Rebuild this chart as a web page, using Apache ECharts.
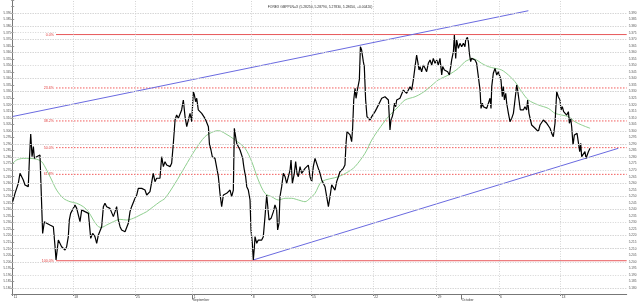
<!DOCTYPE html>
<html><head><meta charset="utf-8">
<script src="https://cdn.jsdelivr.net/npm/echarts@6/dist/echarts.min.js"></script>
<style>html,body{margin:0;padding:0;background:#fff}#c{width:640px;height:302px}</style>
</head><body><div id="c"></div>
<script>
const titleText = 'FOREX GBPPLN=X (5.28250, 5.28790, 5.27830, 5.28650, +0.00420)';
// x unit: trading days from Aug 11
const dayTickPos = [0, 4.98, 10.05, 14.79, 19.64, 24.51, 29.63, 34.84, 39.96, 45.03];
const dayTickLabels = ['11','18','25','1','8','15','22','29','6','13'];
const monthTickPos = [14.79, 36.89];
const monthLabels = ['September','October'];
const fibStart = 3.56;
const fibLevels = [5.3736, 5.3328, 5.3076, 5.2872, 5.2668, 5.2008];
const fibNames = ['0.0%','23.6%','38.2%','50.0%','61.8%','100.0%'];
const upperChannel = [[0, 5.3110], [42.37, 5.3918]];
const lowerChannel = [[19.77, 5.2014], [49.76, 5.2867]];
const price = [
[0,5.2459],[0.05,5.2447],[0.19,5.2523],[0.46,5.2599],[0.60,5.2676],[0.87,5.2625],[1.01,5.2587],[1.15,5.2599],[1.28,5.2574],[1.37,5.2778],[1.48,5.2976],[1.59,5.2803],[1.70,5.2880],[1.78,5.2790],[1.97,5.2803],[2.11,5.2790],[2.24,5.2816],[2.38,5.2829],[2.46,5.2217],[2.60,5.2306],[2.79,5.2294],[3.06,5.2281],[3.34,5.2268],[3.48,5.2115],[3.56,5.2014],[3.75,5.2166],[3.89,5.2154],[4.02,5.2115],[4.16,5.2103],[4.30,5.2090],[4.43,5.2115],[4.57,5.2192],[4.65,5.2319],[4.76,5.2370],[4.98,5.2408],[5.12,5.2434],[5.26,5.2408],[5.39,5.2421],[5.53,5.2306],[5.67,5.2396],[5.80,5.2408],[5.94,5.2383],[6.08,5.2396],[6.22,5.2370],[6.35,5.2383],[6.41,5.2179],[6.57,5.2217],[6.76,5.2192],[6.90,5.2141],[7.04,5.2205],[7.17,5.2217],[7.31,5.2268],[7.45,5.2421],[7.58,5.2447],[7.72,5.2421],[7.86,5.2434],[7.99,5.2408],[8.13,5.2396],[8.27,5.2345],[8.41,5.2383],[8.54,5.2421],[8.68,5.2319],[8.82,5.2268],[8.95,5.2243],[9.09,5.2230],[9.23,5.2230],[9.36,5.2217],[9.50,5.2294],[9.64,5.2383],[9.77,5.2421],[9.91,5.2421],[10.05,5.2485],[10.19,5.2510],[10.32,5.2561],[10.46,5.2574],[10.60,5.2561],[10.73,5.2548],[10.87,5.2548],[11.01,5.2510],[11.14,5.2497],[11.28,5.2536],[11.42,5.2523],[11.55,5.2676],[11.69,5.2612],[11.83,5.2638],[11.96,5.2625],[12.10,5.2638],
[12.24,5.2803],[12.38,5.2727],[12.515,5.2765],[12.65,5.2739],[12.79,5.2752],[12.93,5.2727],[13.06,5.2752],[13.20,5.2905],[13.34,5.3083],[13.47,5.3121],[13.61,5.3096],[13.75,5.3109],[13.88,5.3160],[14.02,5.3236],[14.16,5.3109],[14.30,5.3032],[14.43,5.3083],[14.57,5.3134],[14.71,5.3070],[14.84,5.3300],[14.93,5.3274],[15.03,5.3223],[15.12,5.3249],[15.25,5.3160],[15.39,5.3172],[15.53,5.3134],[15.66,5.3147],[15.80,5.3096],[15.94,5.3109],[16.08,5.3032],[16.16,5.2905],[16.29,5.2854],[16.40,5.2803],[16.51,5.2816],[16.62,5.2790],[16.76,5.2803],[16.90,5.2650],[17.03,5.2523],[17.17,5.2421],[17.31,5.2510],[17.44,5.2497],[17.58,5.2523],[17.72,5.2510],[17.86,5.2548],[17.99,5.2497],[18.13,5.2548],[18.21,5.3020],[18.32,5.3007],[18.40,5.2905],[18.54,5.2892],[18.68,5.2854],[18.81,5.2867],[18.90,5.2790],[18.95,5.2752],[19.03,5.2701],[19.14,5.2650],[19.23,5.2574],[19.36,5.2548],[19.50,5.2472],[19.58,5.2243],[19.69,5.2141],[19.77,5.2014],[19.86,5.2115],[19.91,5.2192],[20.05,5.2141],[20.18,5.2166],[20.32,5.2179],[20.46,5.2166],[20.59,5.2192],[20.73,5.2345],[20.87,5.2510],[21.01,5.2497],[21.06,5.2319],[21.23,5.2332],[21.33,5.2319],[21.42,5.2383],[21.55,5.2434],[21.69,5.2396],[21.77,5.2243],[21.88,5.2294],[21.96,5.2497],[22.10,5.2574],[22.24,5.2676],[22.38,5.2650],[22.51,5.2599],[22.65,5.2650],[22.79,5.2701],[22.87,5.2778],[22.98,5.2599],[23.14,5.2676],[23.25,5.2765],[23.36,5.2676],[23.47,5.2650],[23.61,5.2727],[23.74,5.2676],[23.88,5.2688],[24.02,5.2714],[24.16,5.2701],[24.29,5.2739],[24.43,5.2650],[24.57,5.2612],[24.70,5.2727],[24.84,5.2790],
[24.98,5.2778],[25.11,5.2714],[25.25,5.2676],[25.39,5.2625],[25.52,5.2612],[25.66,5.2574],[25.80,5.2497],[25.94,5.2421],[26.07,5.2497],[26.21,5.2587],[26.35,5.2574],[26.48,5.2548],[26.62,5.2612],[26.76,5.2650],[26.89,5.2688],[27.03,5.2676],[27.17,5.2714],[27.30,5.2739],[27.39,5.2905],[27.47,5.2994],[27.58,5.2981],[27.72,5.2969],[27.85,5.2918],[27.93,5.3020],[28.02,5.3236],[28.13,5.3325],[28.21,5.3249],[28.32,5.3312],[28.40,5.3325],[28.48,5.3389],[28.57,5.3643],[28.67,5.3618],[28.81,5.3529],[28.89,5.3491],[29.00,5.3236],[29.11,5.3109],[29.22,5.3121],[29.36,5.3083],[29.50,5.3109],[29.63,5.3109],[29.77,5.3147],[29.91,5.3172],[30.04,5.3172],[30.18,5.3223],[30.32,5.3249],[30.45,5.3236],[30.59,5.3261],[30.73,5.3274],[30.87,5.3236],[31.00,5.3007],[31.08,5.3083],[31.19,5.3109],[31.28,5.3147],[31.36,5.3211],[31.47,5.3185],[31.55,5.3236],[31.69,5.3223],[31.82,5.3249],[31.96,5.3236],[32.10,5.3312],[32.23,5.3325],[32.37,5.3287],[32.51,5.3300],[32.65,5.3338],[32.78,5.3312],[32.92,5.3389],[33.06,5.3491],[33.19,5.3580],[33.28,5.3529],[33.39,5.3465],[33.47,5.3491],[33.60,5.3452],[33.74,5.3503],[33.88,5.3478],[34.01,5.3452],[34.15,5.3516],[34.29,5.3542],[34.43,5.3503],[34.56,5.3554],[34.70,5.3516],[34.84,5.3542],[34.97,5.3503],[35.11,5.3554],[35.25,5.3427],[35.33,5.3491],[35.47,5.3465],[35.58,5.3478],[35.74,5.3452],[35.88,5.3427],[35.99,5.3491],[36.07,5.3542],[36.21,5.3605],[36.29,5.3733],[36.40,5.3554],[36.48,5.3694],[36.62,5.3631],[36.75,5.3669],[36.89,5.3643],[37.03,5.3669],[37.16,5.3643],
[37.22,5.3694],[37.36,5.3715],[37.44,5.3682],[37.52,5.3593],[37.63,5.3529],[37.71,5.3554],[37.85,5.3542],[37.99,5.3542],[38.12,5.3516],[38.26,5.3414],[38.40,5.3312],[38.48,5.3172],[38.59,5.3211],[38.67,5.3185],[38.81,5.3172],[38.95,5.3172],[39.08,5.3185],[39.22,5.3249],[39.30,5.3172],[39.36,5.3338],[39.49,5.3440],[39.63,5.3478],[39.77,5.3427],[39.90,5.3452],[40.04,5.3465],[40.12,5.3389],[40.23,5.3261],[40.31,5.3338],[40.40,5.3236],[40.51,5.3287],[40.59,5.3211],[40.73,5.3134],[40.86,5.3070],[41.00,5.3096],[41.14,5.3134],[41.27,5.3236],[41.41,5.3351],[41.49,5.3312],[41.60,5.3236],[41.71,5.3160],[41.82,5.3172],[41.96,5.3160],[42.09,5.3185],[42.23,5.3160],[42.31,5.3236],[42.42,5.3134],[42.53,5.3147],[42.64,5.3045],[42.78,5.3032],[42.92,5.3020],[43.05,5.3032],[43.19,5.2994],[43.33,5.3045],[43.46,5.3032],[43.60,5.3083],[43.74,5.3096],[43.88,5.3058],[44.01,5.3045],[44.15,5.3020],[44.29,5.2981],[44.42,5.2956],[44.56,5.3058],[44.70,5.3300],[44.83,5.3261],[44.97,5.3236],[45.05,5.3160],[45.16,5.3185],[45.27,5.3147],[45.38,5.3134],[45.52,5.3121],[45.66,5.3147],[45.74,5.3058],[45.85,5.3096],[45.93,5.3032],[46.04,5.2892],[46.15,5.2969],[46.26,5.2956],[46.37,5.2981],[46.48,5.2969],[46.59,5.2841],[46.67,5.2905],[46.75,5.2803],[46.89,5.2790],[47.02,5.2841],[47.11,5.2790],[47.19,5.2783],[47.30,5.2841],[47.44,5.2867]
];
const ma = [
[0,5.2752],[0.33,5.2778],[0.87,5.2790],[1.42,5.2790],[1.97,5.2783],[2.38,5.2765],[2.79,5.2701],[3.20,5.2625],[3.61,5.2548],[4.16,5.2485],[4.71,5.2459],[5.26,5.2447],[5.80,5.2421],[6.22,5.2383],[6.63,5.2319],[7.04,5.2268],[7.31,5.2263],[7.72,5.2281],[8.27,5.2306],[8.82,5.2324],[9.36,5.2319],[9.91,5.2332],[10.46,5.2357],[11.01,5.2383],[11.55,5.2421],[12.10,5.2459],[12.515,5.2485],[13.34,5.2599],[14.16,5.2727],[14.98,5.2854],[15.80,5.2956],[16.49,5.2994],[16.90,5.3002],[17.44,5.2981],[18.27,5.2931],[19.09,5.2867],[19.64,5.2765],[20.18,5.2625],[20.73,5.2523],[21.28,5.2497],[21.83,5.2472],[22.38,5.2485],[22.92,5.2485],[23.47,5.2472],[24.02,5.2459],[24.43,5.2485],[24.84,5.2523],[25.39,5.2612],[26.76,5.2650],[27.58,5.2688],[28.13,5.2727],[28.95,5.2829],[29.50,5.2930],[30.04,5.3007],[30.87,5.3109],[31.69,5.3185],[32.23,5.3236],[33.06,5.3261],[33.60,5.3287],[34.15,5.3325],[34.97,5.3389],[35.80,5.3427],[36.62,5.3478],[37.16,5.3529],[37.44,5.3542],[37.71,5.3554],[38.12,5.3542],[38.53,5.3516],[39.08,5.3491],[39.63,5.3478],[40.18,5.3465],[40.73,5.3427],[41.27,5.3376],[41.82,5.3300],[42.37,5.3236],[43.19,5.3198],[44.01,5.3172],[44.56,5.3134],[45.11,5.3121],[45.66,5.3109],[46.20,5.3070],[46.75,5.3045],[47.44,5.3020]
];

const X_MIN = 0, X_MAX = 50.45;
const Y_MIN = 5.175, Y_MAX = 5.400, Y_STEP = 0.005;
const FONT = 'Liberation Sans';
const GRID_COLOR = '#d4d4d4';
const lookup = (pos, labels) => v => {
  const i = pos.findIndex(p => Math.abs(p - v) < 1e-6);
  return i >= 0 ? labels[i] : '';
};
const yFmt = v => (v < 5.1799 || v > 5.3901) ? '' : v.toFixed(3);

const gridMarks = [];
for (let k = 1; Y_MIN + k * Y_STEP < Y_MAX - 1e-9; k++) {
  const v = +(Y_MIN + k * Y_STEP).toFixed(3);
  const nearFib = fibLevels.some(f => Math.abs(f - v) < 0.0015);
  if (nearFib) gridMarks.push([{coord: [X_MIN, v]}, {coord: [fibStart, v]}]);
  else gridMarks.push({yAxis: v});
}
const vGridMarks = dayTickPos.slice(1).map(p => ({xAxis: p}));

// Fibonacci retracement lines as plain line series
const fibSeries = fibLevels.map((lv, i) => {
  const solid = (i === 0 || i === fibLevels.length - 1);
  return {
    type: 'line', name: 'fib ' + fibNames[i], silent: true, z: 3,
    data: [[fibStart, lv], [X_MAX, lv]],
    showSymbol: false, symbol: 'none',
    lineStyle: {color: solid ? '#e8595b' : '#f25a5a', width: 1, type: solid ? 'solid' : [1.5, 1.5]},
    endLabel: {show: false},
    markPoint: {silent: true, symbol: 'rect', symbolSize: 0.01,
      label: {show: true, position: 'left', distance: 2, formatter: fibNames[i], color: '#e03c3c', fontSize: 3.6, fontFamily: FONT},
      data: [{coord: [fibStart, lv]}]}
  };
});

const chart = echarts.init(document.getElementById('c'), null, {renderer: 'canvas'});
chart.setOption({
  animation: false,
  backgroundColor: '#ffffff',
  title: {text: titleText, left: 'center', top: 1, textStyle: {fontSize: 3.4, fontWeight: 'normal', color: '#333', fontFamily: FONT}},
  grid: {left: 12.7, right: 13.3, top: 0, bottom: 7.5, containLabel: false},
  xAxis: [
    {type: 'value', min: X_MIN, max: X_MAX, position: 'bottom',
     axisLine: {show: true, lineStyle: {color: '#777', width: 1}},
     axisTick: {show: true, customValues: dayTickPos, length: 1.5, lineStyle: {color: '#777'}},
     axisLabel: {show: true, customValues: dayTickPos, formatter: lookup(dayTickPos, dayTickLabels), fontSize: 3.4, color: '#444', fontFamily: FONT, margin: 1, align: 'left', padding: [0, 0, 0, 1]},
     splitLine: {show: false}},
    {type: 'value', min: X_MIN, max: X_MAX, position: 'bottom',
     axisLine: {show: false},
     axisTick: {show: true, customValues: monthTickPos, length: 5, lineStyle: {color: '#777'}},
     axisLabel: {show: true, customValues: monthTickPos, formatter: lookup(monthTickPos, monthLabels), fontSize: 3.4, color: '#444', fontFamily: FONT, margin: 4, align: 'left'},
     splitLine: {show: false}}
  ],
  yAxis: [
    {type: 'value', min: Y_MIN, max: Y_MAX, interval: Y_STEP, position: 'left',
     axisLine: {show: true, lineStyle: {color: '#777'}},
     axisTick: {show: true, length: 1.5, lineStyle: {color: '#999'}},
     axisLabel: {formatter: yFmt, fontSize: 3.1, color: '#555', fontFamily: FONT, margin: 1.5},
     splitLine: {show: false}},
    {type: 'value', min: Y_MIN, max: Y_MAX, interval: Y_STEP, position: 'right',
     axisLine: {show: true, lineStyle: {color: '#777'}},
     axisTick: {show: true, length: 1.5, lineStyle: {color: '#999'}},
     axisLabel: {formatter: yFmt, fontSize: 3.1, color: '#555', fontFamily: FONT, margin: 2},
     splitLine: {show: false}}
  ],
  series: [
    {type: 'line', name: 'grid', data: [], xAxisIndex: 0, yAxisIndex: 0, silent: true, z: 1,
     markLine: {silent: true, symbol: ['none', 'none'], label: {show: false},
       lineStyle: {color: GRID_COLOR, width: 1, type: [1, 1.5]},
       data: gridMarks.concat(vGridMarks)}}
  ].concat(fibSeries).concat([
    {type: 'line', name: 'upper', data: upperChannel, showSymbol: false, symbol: 'none', silent: true,
     lineStyle: {color: '#6a6ae0', width: 1}},
    {type: 'line', name: 'lower', data: lowerChannel, showSymbol: false, symbol: 'none', silent: true,
     lineStyle: {color: '#6a6ae0', width: 1}},
    {type: 'line', name: 'ma', data: ma, showSymbol: false, symbol: 'none', smooth: 0.3, silent: true,
     lineStyle: {color: '#8fcf8f', width: 1}},
    {type: 'line', name: 'price', data: price, showSymbol: false, symbol: 'none', silent: true,
     lineStyle: {color: '#000000', width: 1.2}}
  ])
});
</script></body></html>
